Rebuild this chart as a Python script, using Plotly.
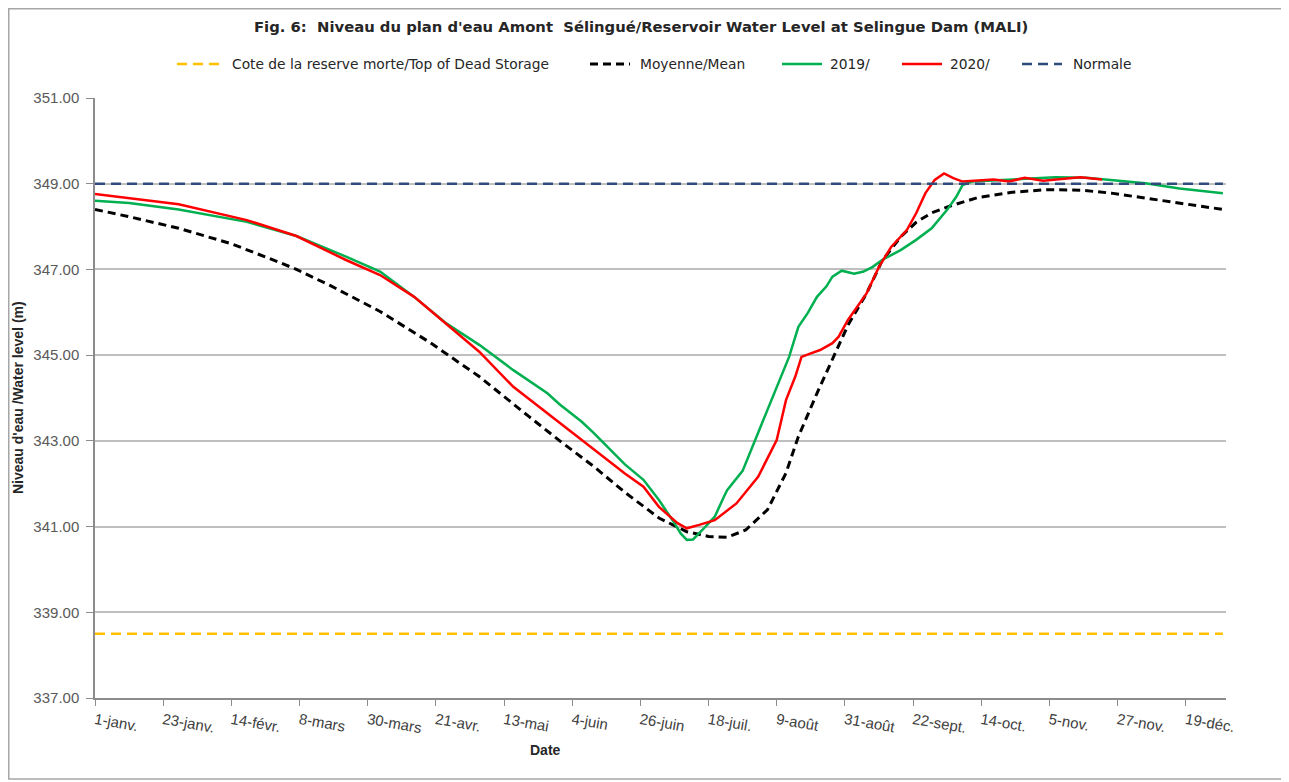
import plotly.graph_objects as go

# ---------------- data ----------------
tick_dates = ["2019-01-01", "2019-01-23", "2019-02-14", "2019-03-08", "2019-03-30",
              "2019-04-21", "2019-05-13", "2019-06-04", "2019-06-26", "2019-07-18",
              "2019-08-09", "2019-08-31", "2019-09-22", "2019-10-14", "2019-11-05",
              "2019-11-27", "2019-12-19"]
tick_labels = ["1-janv.", "23-janv.", "14-févr.", "8-mars", "30-mars", "21-avr.",
               "13-mai", "4-juin", "26-juin", "18-juil.", "9-août", "31-août",
               "22-sept.", "14-oct.", "5-nov.", "27-nov.", "19-déc."]

mean_dates = ["2019-01-01", "2019-01-12", "2019-01-28", "2019-02-14", "2019-03-02",
              "2019-03-07", "2019-03-18", "2019-04-03", "2019-04-19", "2019-04-25",
              "2019-05-05", "2019-05-21", "2019-05-31", "2019-06-11", "2019-06-21",
              "2019-07-02", "2019-07-11", "2019-07-18", "2019-07-24", "2019-07-30",
              "2019-08-06", "2019-08-12", "2019-08-16", "2019-08-22", "2019-08-27",
              "2019-09-01", "2019-09-07", "2019-09-12", "2019-09-18", "2019-09-23",
              "2019-09-28", "2019-10-04", "2019-10-13", "2019-10-24", "2019-11-04",
              "2019-11-15", "2019-11-25", "2019-12-06", "2019-12-17", "2019-12-31"]
mean_vals = [348.40, 348.23, 347.96, 347.60, 347.15,
             347.00, 346.62, 346.02, 345.30, 345.00,
             344.50, 343.57, 343.00, 342.40, 341.80,
             341.20, 340.88, 340.77, 340.75, 340.92,
             341.39, 342.25, 343.10, 344.11, 344.89,
             345.70, 346.44, 347.20, 347.76, 348.10,
             348.32, 348.48, 348.68, 348.80, 348.86,
             348.85, 348.78, 348.66, 348.54, 348.40]

y2019_dates = ["2019-01-01", "2019-01-12", "2019-01-28", "2019-02-19", "2019-03-07",
               "2019-03-23", "2019-04-03", "2019-04-14", "2019-04-24", "2019-05-05",
               "2019-05-16", "2019-05-27", "2019-05-31", "2019-06-07", "2019-06-11",
               "2019-06-21", "2019-06-27", "2019-07-02", "2019-07-07", "2019-07-09",
               "2019-07-11", "2019-07-13", "2019-07-16", "2019-07-20", "2019-07-23",
               "2019-07-24", "2019-07-29", "2019-08-02", "2019-08-07", "2019-08-10",
               "2019-08-13", "2019-08-16", "2019-08-19", "2019-08-22", "2019-08-25",
               "2019-08-27", "2019-08-30", "2019-09-03", "2019-09-06", "2019-09-09",
               "2019-09-12", "2019-09-18", "2019-09-23", "2019-09-28", "2019-10-03",
               "2019-10-06", "2019-10-08", "2019-10-11", "2019-10-18", "2019-10-28",
               "2019-11-07", "2019-11-17", "2019-11-27", "2019-12-06", "2019-12-17",
               "2019-12-31"]
y2019_vals = [348.60, 348.55, 348.40, 348.11, 347.78,
              347.30, 346.95, 346.36, 345.76, 345.24,
              344.65, 344.11, 343.85, 343.45, 343.18,
              342.45, 342.09, 341.62, 341.08, 340.84,
              340.69, 340.70, 340.92, 341.23, 341.70,
              341.85, 342.30, 343.00, 343.88, 344.42,
              344.96, 345.66, 345.98, 346.36, 346.60,
              346.83, 346.97, 346.90, 346.95, 347.06,
              347.22, 347.45, 347.69, 347.96, 348.39,
              348.70, 348.97, 349.05, 349.08, 349.12,
              349.15, 349.14, 349.08, 349.01, 348.89,
              348.78]

y2020_dates = ["2019-01-01", "2019-01-12", "2019-01-28", "2019-02-19", "2019-03-07",
               "2019-03-23", "2019-04-03", "2019-04-14", "2019-04-24", "2019-05-05",
               "2019-05-16", "2019-05-27", "2019-05-31", "2019-06-07", "2019-06-11",
               "2019-06-21", "2019-06-27", "2019-07-02", "2019-07-08", "2019-07-11",
               "2019-07-15", "2019-07-20", "2019-07-27", "2019-08-03", "2019-08-09",
               "2019-08-12", "2019-08-15", "2019-08-17", "2019-08-20", "2019-08-23",
               "2019-08-27", "2019-08-29", "2019-09-01", "2019-09-07", "2019-09-11",
               "2019-09-15", "2019-09-20", "2019-09-23", "2019-09-26", "2019-09-29",
               "2019-10-02", "2019-10-05", "2019-10-08", "2019-10-12", "2019-10-18",
               "2019-10-23", "2019-10-28", "2019-11-03", "2019-11-08", "2019-11-15",
               "2019-11-22"]
y2020_vals = [348.76, 348.66, 348.52, 348.15, 347.78,
              347.22, 346.87, 346.36, 345.76, 345.08,
              344.26, 343.64, 343.41, 343.02, 342.79,
              342.24, 341.93, 341.46, 341.08, 340.96,
              341.04, 341.15, 341.54, 342.16, 343.02,
              343.95, 344.50, 344.96, 345.04, 345.12,
              345.28, 345.43, 345.82, 346.44, 347.06,
              347.53, 347.92, 348.31, 348.78, 349.09,
              349.24, 349.13, 349.05, 349.07, 349.10,
              349.05, 349.14, 349.07, 349.10, 349.15,
              349.10]

line_dates = ["2019-01-01", "2019-12-31"]
dead_storage = [338.5, 338.5]
normale = [349.0, 349.0]

series_names = ["Cote de la reserve morte/Top of Dead Storage", "Moyenne/Mean",
                "2019/", "2020/", "Normale"]
series_colors = ["#FFC000", "#000000", "#00B050", "#FF0000", "#2E4B7C"]
series_dash = ["10px,6px", "8px,5px", "solid", "solid", "10px,6px"]
series_width = [2.5, 3, 2.5, 2.5, 2.5]

# ---------------- figure ----------------
# the page body has an 8px margin; figure is sized to fit the window
OFF = 8
W, H = 1289 - OFF, 782 - OFF
PL, PR, PT, PB = 95, 1226, 98, 698          # plot area in page pixels
L, T = PL - OFF, PT - OFF
R, B = W - (PR - OFF), H - (PB - OFF)
pw, ph = PR - PL, PB - PT


def px(x):
    return (x - PL) / pw


def py(y):
    return (PB - y) / ph


fig = go.Figure()
xs = [line_dates, mean_dates, y2019_dates, y2020_dates, line_dates]
ys = [dead_storage, mean_vals, y2019_vals, y2020_vals, normale]
for xv, yv, nm, c, d, w in zip(xs, ys, series_names, series_colors, series_dash, series_width):
    fig.add_trace(go.Scatter(x=xv, y=yv, mode="lines", name=nm, showlegend=False,
                             line=dict(color=c, width=w, dash=d)))

fig.update_layout(
    width=W, height=H,
    margin=dict(l=L, r=R, t=T, b=B),
    paper_bgcolor="white", plot_bgcolor="white",
    font=dict(family="Liberation Sans, Arial, sans-serif", color="#404040"),
    showlegend=False,
    xaxis=dict(type="date", range=["2019-01-01", "2020-01-01"],
               tickvals=tick_dates, ticktext=tick_labels, tickangle=10,
               tickfont=dict(size=15, color="#404040"),
               showgrid=False, showline=True, linecolor="#8C8C8C", linewidth=1.5,
               ticks="outside", ticklen=6, tickcolor="#8C8C8C", zeroline=False),
    yaxis=dict(range=[337, 351], tickvals=[337, 339, 341, 343, 345, 347, 349, 351],
               tickformat=".2f", tickfont=dict(size=15, color="#595959"),
               ticklabelstandoff=4,
               showgrid=True, gridcolor="#BFBFBF", gridwidth=1.5,
               showline=True, linecolor="#8C8C8C", linewidth=1.5,
               ticks="outside", ticklen=7, tickcolor="#8C8C8C", zeroline=False),
)

# manual legend (one row above the plot)
leg_y = py(64)
leg_line_x = [(177, 220), (590, 630), (782, 822), (902, 942), (1022, 1062)]
leg_text_x = [230, 638, 828, 948, 1071]
for (x0, x1), tx, nm, c, d, w in zip(leg_line_x, leg_text_x, series_names,
                                     series_colors, series_dash, series_width):
    fig.add_shape(type="line", xref="paper", yref="paper", x0=px(x0), x1=px(x1),
                  y0=leg_y, y1=leg_y, line=dict(color=c, width=w, dash=d))
    fig.add_annotation(text=nm, xref="paper", yref="paper", x=px(tx), y=leg_y,
                       xanchor="left", yanchor="middle", showarrow=False,
                       font=dict(size=13.8, color="#262626", family="DejaVu Sans, sans-serif"))

fig.add_annotation(text="<b>Fig. 6:  Niveau du plan d'eau Amont  Sélingué/Reservoir Water Level at Selingue Dam (MALI)</b>",
                   xref="paper", yref="paper", x=px(641), y=py(27), xanchor="center", yanchor="middle",
                   showarrow=False, font=dict(size=14.8, color="#262626", family="DejaVu Sans, sans-serif"))
fig.add_annotation(text="<b>Niveau d'eau /Water level (m)</b>", textangle=-90,
                   xref="paper", yref="paper", x=px(18), y=py(398), xanchor="center", yanchor="middle",
                   showarrow=False, font=dict(size=14, color="#262626",
                                              family="Liberation Sans Narrow, Arial Narrow, sans-serif"))
fig.add_annotation(text="<b>Date</b>", xref="paper", yref="paper", x=px(545), y=py(750),
                   xanchor="center", yanchor="middle", showarrow=False,
                   font=dict(size=14, color="#262626"))
fig.add_shape(type="rect", xref="paper", yref="paper", x0=px(8.75), x1=px(1285), y0=py(779), y1=py(8.75),
              line=dict(color="#A6A6A6", width=1.5), fillcolor="rgba(0,0,0,0)", layer="below")

fig.write_html("out.html")
